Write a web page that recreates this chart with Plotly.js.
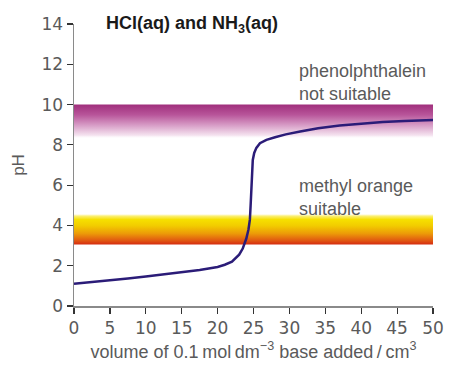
<!DOCTYPE html>
<html>
<head>
<meta charset="utf-8">
<script src="https://cdn.plot.ly/plotly-3.0.1.min.js"></script>
<style>html,body{margin:0;padding:0;background:#fff;}#chart{width:457px;height:373px;}</style>
</head>
<body>
<div id="chart"></div>
<script>
// Titration curve: volume of base added (cm3) vs pH
const volume = [0, 2.5, 5, 7.5, 10, 12.5, 15, 17.5, 20, 21, 22, 23, 23.5, 24, 24.3, 24.5, 24.6, 24.7, 24.8, 24.9, 25.1, 25.4, 25.9, 26.8, 28, 29.5, 31.5, 34, 37, 40, 43, 46, 50];
const pH = [1.1, 1.18, 1.27, 1.36, 1.46, 1.56, 1.67, 1.79, 1.94, 2.05, 2.2, 2.55, 2.85, 3.35, 3.8, 4.3, 5.0, 5.8, 6.6, 7.25, 7.6, 7.85, 8.08, 8.25, 8.38, 8.52, 8.66, 8.82, 8.96, 9.06, 9.13, 9.19, 9.24];

// Indicator ranges (pH)
const phenolRange = [8.3, 10];
const methylRange = [3.05, 4.6];
const bandX = [0, 50];

const xTicks = [0, 5, 10, 15, 20, 25, 30, 35, 40, 45, 50];
const yTicks = [0, 2, 4, 6, 8, 10, 12, 14];

const titleText = 'HCl(aq) and NH<sub>3</sub>(aq)';
const phenolLabel = 'phenolphthalein<br>not suitable';
const methylLabel = 'methyl orange<br>suitable';
const xTitle = 'volume of 0.1\u2009mol\u2009dm<sup>\u22123</sup> base added\u2009/\u2009cm<sup>3</sup>';
const yTitle = 'pH';

function band(range, scale) {
  return {
    x: [bandX[0], bandX[1], bandX[1], bandX[0], bandX[0]],
    y: [range[0], range[0], range[1], range[1], range[0]],
    mode: 'lines', line: {width: 0}, fill: 'toself',
    fillgradient: {type: 'vertical', start: range[0], stop: range[1], colorscale: scale},
    hoverinfo: 'skip', showlegend: false
  };
}

const traces = [
  band(phenolRange, [[0, 'rgba(255,255,255,0)'], [0.1, 'rgba(245,228,240,1)'], [0.4, '#d79cc6'], [0.7, '#b8559a'], [1, '#a02f7c']]),
  band(methylRange, [[0, '#d42a10'], [0.12, '#e05512'], [0.35, '#ec9a08'], [0.6, '#f2cc00'], [0.8, '#f6e000'], [0.92, '#fbf07a'], [1, 'rgba(255,255,255,0)']]),
  {x: volume, y: pH, mode: 'lines', line: {color: '#2b1c78', width: 2.5}, showlegend: false}
];

const textColor = '#5a5a5a';
const layout = {
  width: 457, height: 373,
  margin: {l: 74, r: 24, t: 24, b: 67},
  paper_bgcolor: '#ffffff', plot_bgcolor: 'rgba(0,0,0,0)',
  showlegend: false,
  font: {family: 'Liberation Sans, Arial, sans-serif', color: textColor},
  xaxis: {
    range: [0, 50], tickvals: xTicks, ticks: 'outside', ticklen: 6, tickcolor: '#333', tickwidth: 1.2,
    showline: true, linecolor: '#8a8a8a', linewidth: 1.5, showgrid: false, zeroline: false,
    tickfont: {family: 'DejaVu Sans, sans-serif', size: 17, color: textColor},
    title: {text: xTitle, font: {size: 18, color: textColor}, standoff: 8}
  },
  yaxis: {
    range: [0, 14], tickvals: yTicks, ticks: 'outside', ticklen: 6, tickcolor: '#333', tickwidth: 1.2,
    showline: true, linecolor: '#8a8a8a', linewidth: 1.5, showgrid: false, zeroline: false,
    tickfont: {family: 'DejaVu Sans, sans-serif', size: 17, color: textColor},
    title: {text: yTitle, font: {size: 17, color: textColor}, standoff: 12}
  },
  annotations: [
    {x: 0.0836, y: 1.0, xref: 'paper', yref: 'paper', xanchor: 'left', yanchor: 'middle', showarrow: false,
     text: '<b>' + titleText + '</b>', font: {family: 'Liberation Sans Narrow, Arial Narrow, Liberation Sans, sans-serif', size: 18, color: '#1a1a1a'}},
    {x: 31.1, y: 11.1, xref: 'x', yref: 'y', xanchor: 'left', yanchor: 'middle', showarrow: false, align: 'left',
     text: phenolLabel, font: {size: 18, color: textColor}},
    {x: 31.1, y: 5.4, xref: 'x', yref: 'y', xanchor: 'left', yanchor: 'middle', showarrow: false, align: 'left',
     text: methylLabel, font: {size: 18, color: textColor}}
  ]
};

Plotly.newPlot('chart', traces, layout, {staticPlot: true, displayModeBar: false});
</script>
</body>
</html>
